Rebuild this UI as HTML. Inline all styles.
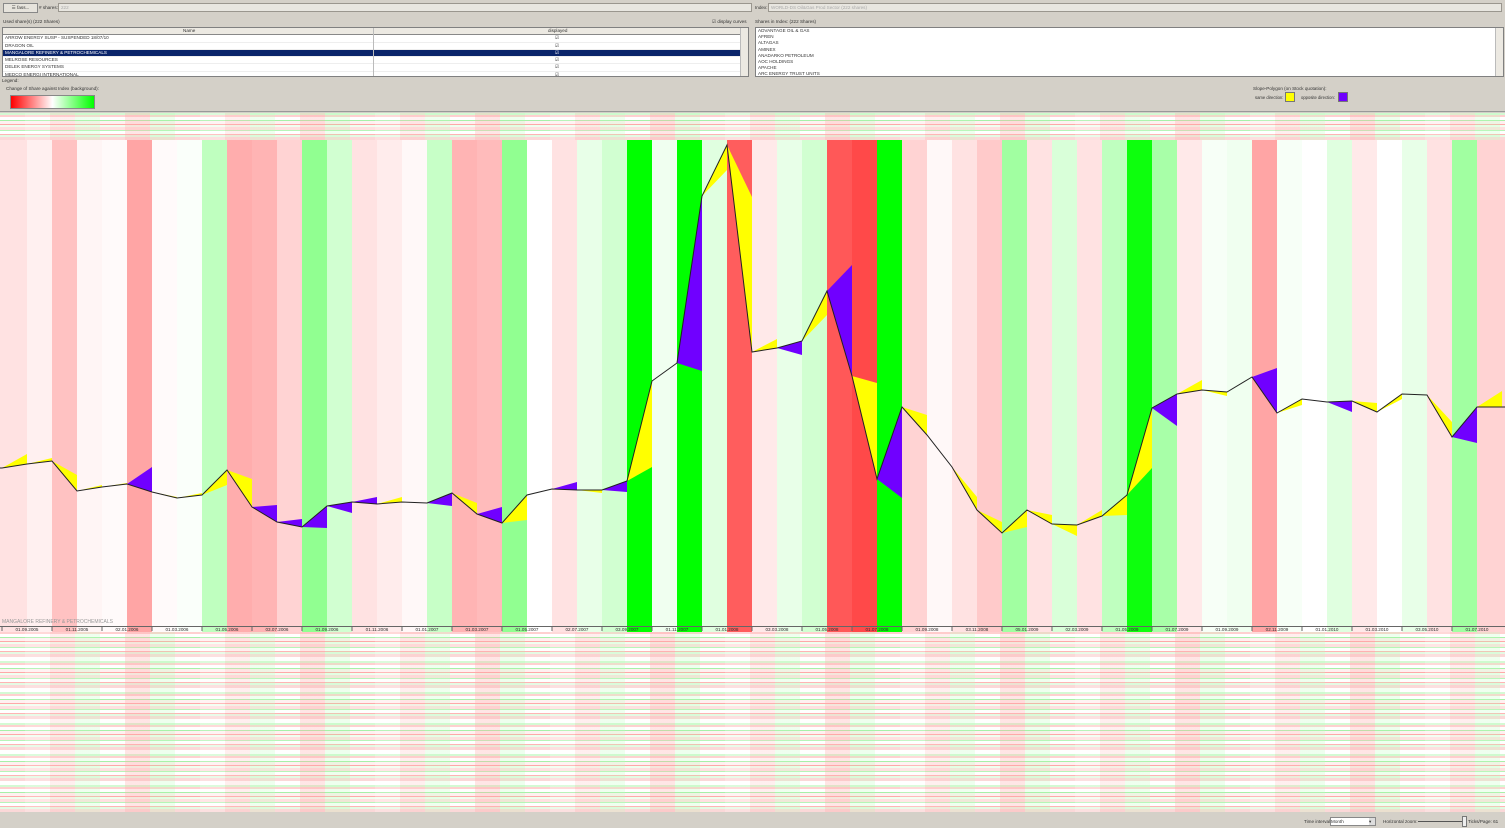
<!DOCTYPE html>
<html><head><meta charset="utf-8"><style>
body{margin:0;width:1505px;height:828px;background:#d4d0c8;font-family:"Liberation Sans",sans-serif;font-size:4.6px;color:#333;position:relative;overflow:hidden}
.a{position:absolute;white-space:nowrap}
.inp{position:absolute;background:#e8e6e0;border:1px solid #9a968e;height:7px;color:#aaa;line-height:7px;padding-left:2px}
.list{position:absolute;background:#fff;border:1px solid #808080}
.row{height:6.3px;line-height:6.3px;padding-left:2px;border-bottom:1px solid #eee;position:relative}
.sb{position:absolute;right:0;top:0;bottom:0;width:7px;background:#ece9e2;border-left:1px solid #bbb}
.heat{position:absolute;left:0;width:1505px;
background:
repeating-linear-gradient(90deg,rgba(255,255,255,0) 0 25px,rgba(255,255,255,.2) 25px 50px,rgba(255,190,190,.25) 50px 75px,rgba(190,255,190,.25) 75px 100px,rgba(255,255,255,0) 100px 125px,rgba(255,170,170,.3) 125px 150px,rgba(170,255,170,.2) 150px 175px),
repeating-linear-gradient(0deg,#fbd8d8 0 3px,#e4fae4 3px 5px,#ffb4b4 5px 6px,#fff 6px 9px,#b8f4b8 9px 10px,#ffe0e0 10px 13px,#f0fff0 13px 15px,#ffa8a8 15px 16px,#fff0f0 16px 19px,#a8f0a8 19px 20px,#fff 20px 23px,#ffd0d0 23px 25px,#d4fad4 25px 27px,#fff 27px 31px)}
</style></head><body>
<div class="a" style="left:3px;top:3px;width:33px;height:8px;border:1px solid #888;background:#e6e3dc;text-align:center;line-height:8px">☰ fass...</div>
<div class="a" style="left:39px;top:5px"># shares:</div>
<div class="inp" style="left:58px;top:3px;width:690px">222</div>
<div class="a" style="left:755px;top:5px">Index:</div>
<div class="inp" style="left:768px;top:3px;width:730px">WORLD-DS Oil&amp;Gas Prod Sector (222 shares)</div>
<div class="a" style="left:3px;top:19px">Used share(s) (222 Shares)</div>
<div class="a" style="left:712px;top:19px">☑ display curves</div>
<div class="a" style="left:755px;top:19px">Shares in Index: (222 Shares)</div>
<div class="list" style="left:2px;top:27px;width:745px;height:48px;overflow:hidden">
 <div class="row" style="background:#ece9e2;border-bottom:1px solid #888"><span class="a" style="left:180px">Name</span><span class="a" style="left:545px">displayed</span></div>
 <div class="row">ARROW ENERGY SUSP - SUSPENDED 18/07/10<span class="a" style="left:552px">☑</span></div>
 <div class="row">DRAGON OIL<span class="a" style="left:552px">☑</span></div>
 <div class="row" style="background:#0a246a;color:#fff">MANGALORE REFINERY &amp; PETROCHEMICALS<span class="a" style="left:552px">☑</span></div>
 <div class="row">MELROSE RESOURCES<span class="a" style="left:552px">☑</span></div>
 <div class="row">DELEK ENERGY SYSTEMS<span class="a" style="left:552px">☑</span></div>
 <div class="row">MEDCO ENERGI INTERNATIONAL<span class="a" style="left:552px">☑</span></div>
 <div class="a" style="left:370px;top:0;bottom:0;border-left:1px solid #bbb"></div>
 <div class="sb"></div>
</div>
<div class="list" style="left:755px;top:27px;width:745px;height:48px;overflow:hidden;line-height:6.2px;padding-left:2px">
ADVANTAGE OIL &amp; GAS<br>AFREN<br>ALTAGAS<br>AMINEX<br>ANADARKO PETROLEUM<br>AOC HOLDINGS<br>APACHE<br>ARC ENERGY TRUST UNITS
<div class="sb"></div></div>
<div class="a" style="left:2px;top:78px">Legend:</div>
<div class="a" style="left:6px;top:86px">Change of Share against Index (background):</div>
<div class="a" style="left:10px;top:95px;width:83px;height:12px;border:1px solid #888;background:linear-gradient(90deg,#ff0000,#fff 50%,#00ff00)"></div>
<div class="a" style="left:1253px;top:86px">Slope-Polygon (on Stock quotation):</div>
<div class="a" style="left:1255px;top:95px;font-size:4.2px">same direction:</div>
<div class="a" style="left:1285px;top:92px;width:8px;height:8px;background:#ffff00;border:1px solid #777"></div>
<div class="a" style="left:1301px;top:95px;font-size:4.2px">opposite direction:</div>
<div class="a" style="left:1338px;top:92px;width:8px;height:8px;background:#7000ff;border:1px solid #777"></div>
<div class="a" style="left:0;top:111px;width:1505px;border-top:1px solid #999"></div>
<div class="heat" style="top:113px;height:27px"></div>
<div class="heat" style="top:632px;height:180px"></div>
<svg class="a" style="left:0;top:0" width="1505" height="828" id="chart"></svg>
<div class="a" style="left:1304px;top:819px">Time interval:</div>
<div class="a" style="left:1330px;top:817px;width:44px;height:7px;background:#fff;border:1px solid #888;line-height:7px">Month<span style="position:absolute;right:0;top:0;width:6px;height:7px;background:#ddd">▾</span></div>
<div class="a" style="left:1383px;top:819px">Horizontal zoom:</div>
<div class="a" style="left:1418px;top:821px;width:44px;border-top:1px solid #555"></div>
<div class="a" style="left:1462px;top:816px;width:3px;height:9px;background:#eee;border:1px solid #777"></div>
<div class="a" style="left:1468px;top:819px">Ticks/Page: 61</div>
<script>
const changes=[-12,-6,-25,-4,-2,-37,-2,2,25,-34,-31,-18,43,18,-12,-8,-3,22,-31,-28,43,0,-12,9,18,100,6,100,12,-67,-9,9,18,-69,-75,100,-18,-3,-12,-22,37,-12,15,-12,25,95,34,-9,3,6,-37,3,0,12,-9,0,9,-12,37,-18];
const prices=[132,136,139,109,113,116,108,102,105,130,93,78,73,94,98,96,98,97,107,86,77,105,111,110,110,119,219,237,404,455,248,252,259,309,224,121,193,165,133,90,67,90,76,75,84,105,192,206,210,208,223,187,201,198,199,188,206,205,163,193,193];
const indexMoves=[14,6,-14,6,4,17,-5,5,10,-9,2,3,-1,-7,5,7,-1,-3,-10,7,3,6,7,-3,-2,14,18,-8,26,-52,13,-7,26,26,-7,-19,-8,-32,-30,-12,6,-5,-12,15,1,27,-18,14,-6,15,9,8,-3,-10,-2,13,-1,-27,-6,16];
const dateLabels=["01.09.2005","01.11.2005","02.01.2006","01.03.2006","01.05.2006","03.07.2006","01.09.2006","01.11.2006","01.01.2007","01.03.2007","01.05.2007","02.07.2007","03.09.2007","01.11.2007","01.01.2008","03.03.2008","01.05.2008","01.07.2008","01.09.2008","03.11.2008","05.01.2009","02.03.2009","01.05.2009","01.07.2009","01.09.2009","02.11.2009","01.01.2010","01.03.2010","03.05.2010","01.07.2010"];
const NS="http://www.w3.org/2000/svg",svg=document.getElementById('chart');
const X0=2,CW=25,TOP=140,BOT=626;
const xs=i=>X0+i*CW;
const ys=v=>600-v;
function mk(t,a){const e=document.createElementNS(NS,t);for(const k in a)e.setAttribute(k,a[k]);svg.appendChild(e);return e;}
function col(c){const t=Math.min(1,Math.abs(c)/100);const l=Math.round(255*(1-t));return c>=0?`rgb(${l},255,${l})`:`rgb(255,${Math.round(255*(1-t*0.95))},${Math.round(255*(1-t*0.95))})`;}
changes.forEach((c,i)=>{
 const x=i===0?0:xs(i), w=i===0?xs(1):(i===changes.length-1?1505-xs(i):CW);
 const r=mk('rect',{x:x,y:TOP,width:w,height:BOT-TOP+6,fill:col(c)});
 
 
});
for(let i=0;i<prices.length-1;i++){
 const y0=ys(prices[i]),y1=ys(prices[i+1]),yi=ys(prices[i]+indexMoves[i]);
 const sd=Math.sign(prices[i+1]-prices[i]),si=Math.sign(indexMoves[i]);
 const same=(sd===si)||sd===0||si===0;
 const p=mk('polygon',{points:`${xs(i)},${y0} ${xs(i+1)},${y1} ${xs(i+1)},${yi}`,fill:same?'#ffff00':'#7000ff'});
 
 
}
const pts=prices.map((v,i)=>`${xs(i)},${ys(v)}`);
pts.unshift(`0,${ys(prices[0])}`);pts.push(`1505,${ys(prices[prices.length-1])}`);
const ln=mk('polyline',{points:pts.join(' '),fill:'none',stroke:'#222',"stroke-width":1});


const axl=mk('line',{x1:0,x2:1505,y1:626.5,y2:626.5,stroke:'#666',"stroke-width":1});


const nm=mk('text',{x:2,y:623,"font-size":5,fill:'#999',"font-family":"Liberation Sans"});nm.textContent="MANGALORE REFINERY & PETROCHEMICALS";


dateLabels.forEach((d,j)=>{
 const tk=mk('line',{x1:xs(2*j),x2:xs(2*j),y1:626,y2:631,stroke:'#666'});
 
 
 const t=mk('text',{x:xs(2*j+1),y:631,"font-size":4.6,"text-anchor":"middle",fill:'#333',"font-family":"Liberation Sans"});
 t.textContent=d;
 
 
});
</script>
</body></html>
